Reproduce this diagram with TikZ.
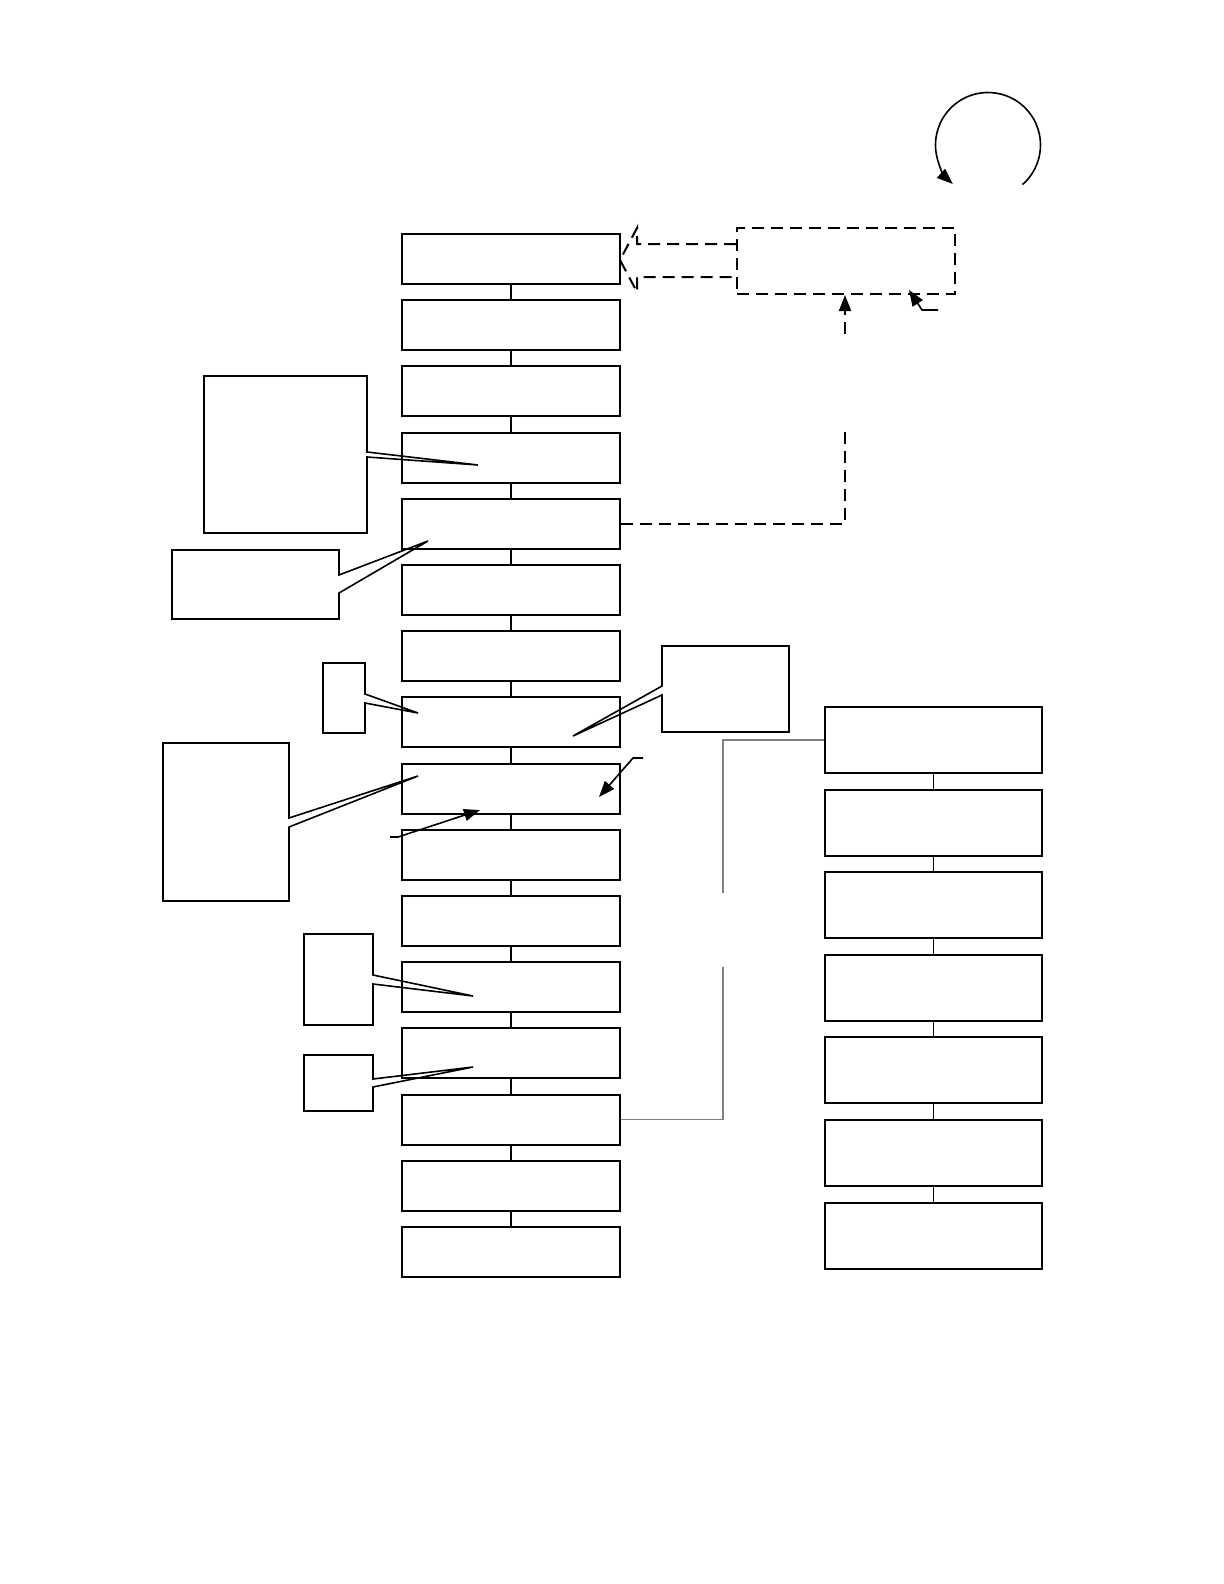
\documentclass[tikz,border=0pt]{standalone}
\usepackage{tikz}
\usetikzlibrary{arrows.meta}

\begin{document}
\begin{tikzpicture}[x=0.5pt,y=0.5pt,line cap=butt,line join=miter,
    stepbox/.style={draw,line width=1pt,inner sep=0pt,minimum width=109pt,minimum height=25pt},
    sidebox/.style={draw,line width=1pt,inner sep=0pt,minimum width=108.5pt,minimum height=33pt},
    dashbox/.style={draw,line width=1pt,dash pattern=on 6pt off 3.5pt,inner sep=0pt,minimum width=109pt,minimum height=33pt},
    dline/.style={line width=1pt,dash pattern=on 6pt off 3.5pt},
    link/.style={line width=0.8pt},
    glink/.style={line width=0.6pt,gray},
    tip/.style={-{Triangle[length=8pt,width=6pt]}}]
  \useasboundingbox (0,0) rectangle (1224,-1584);
  % main column
  \foreach \i in {1,...,16}
    \node[stepbox] (m\i) at (511,{-259-66.2*(\i-1)}) {};
  \foreach \i [evaluate=\i as \j using int(\i+1)] in {1,...,15}
    \draw[link] (m\i.south) -- (m\j.north);
  % side column
  \foreach \i in {1,...,7}
    \node[sidebox] (r\i) at (933.5,{-740-82.6*(\i-1)}) {};
  \foreach \i [evaluate=\i as \j using int(\i+1)] in {1,...,6}
    \draw[link] (r\i.south) -- (r\j.north);
  % dashed block and feedback
  \node[dashbox] (db) at (846,-261) {};
  \draw[dline,line join=miter] (db.west |- 0,-244) -- (637,-244) -- (637,-228) -- (620,-260)
    -- (637,-292) -- (637,-277) -- (db.west |- 0,-277);
  \coordinate (fb1) at (845,-334);
  \coordinate (fb2) at (845,-426);
  \draw[dline,tip] (fb1) -- (fb1 |- db.south);
  \draw[dline] (m5.east) -| (fb2);
  \draw[link,tip] (938,-310) -- (922,-310) -- (909,-290);
  % loop arrow
  \coordinate (cc) at (988,-145);
  \draw[link,tip] (cc) ++(-49:52.5) arc[start angle=-49,end angle=228,radius=52.5];
  % callouts
  \draw[link] (204,-376) -- (367,-376) -- (367,-452) -- (478,-465) -- (367,-457) -- (367,-533) -- (204,-533) -- cycle;
  \draw[link] (172,-550) -- (339,-550) -- (339,-575) -- (428,-541) -- (339,-593) -- (339,-619) -- (172,-619) -- cycle;
  \draw[link] (323,-663) -- (365,-663) -- (365,-694) -- (418,-713) -- (365,-703) -- (365,-733) -- (323,-733) -- cycle;
  \draw[link] (163,-743) -- (289,-743) -- (289,-818) -- (418,-776) -- (289,-827) -- (289,-901) -- (163,-901) -- cycle;
  \draw[link] (662,-646) -- (789,-646) -- (789,-732) -- (662,-732) -- (662,-695) -- (573,-736) -- (662,-686) -- cycle;
  \draw[link] (304,-934) -- (373,-934) -- (373,-975) -- (473,-996) -- (373,-984) -- (373,-1025) -- (304,-1025) -- cycle;
  \draw[link] (304,-1055) -- (373,-1055) -- (373,-1079) -- (473,-1067) -- (373,-1087) -- (373,-1111) -- (304,-1111) -- cycle;
  % pointer arrows
  \draw[link,tip] (643,-758) -- (633,-758) -- (599,-797);
  \draw[link,tip] (390,-837) -- (398,-837) -- (480,-810);
  % gray link to side column
  \coordinate (g1) at (723,-893);
  \coordinate (g2) at (723,-967);
  \draw[glink] (r1.west) -| (g1);
  \draw[glink] (g2) |- (m14.east);
\end{tikzpicture}
\end{document}
